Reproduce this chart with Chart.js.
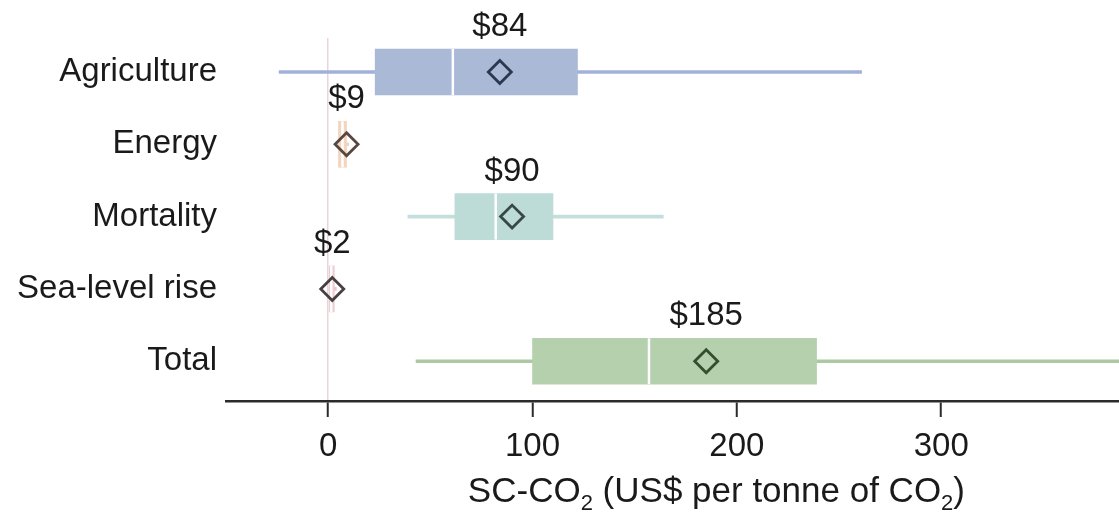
<!DOCTYPE html>
<html>
<head>
<meta charset="utf-8">
<script src="https://cdn.jsdelivr.net/npm/chart.js@4.4.1/dist/chart.umd.min.js"></script>
<style>
  html, body { margin: 0; padding: 0; background: #fff; overflow: hidden; }
  #scco2 { display: block; }
</style>
</head>
<body>
<canvas id="scco2" width="1119" height="515"></canvas>
<script>
// SC-CO2 by sector: whiskers, interquartile box, median and mean
const sectors = ['Agriculture', 'Energy', 'Mortality', 'Sea-level rise', 'Total'];
const whiskerLow = [-24, 4, 39, 0, 43];
const whiskerHigh = [261, 10, 164, 4, 420];
const boxLow = [23, 5, 62, 0.5, 100];
const boxHigh = [122, 9, 110, 3, 239];
const medians = [61, 7, 82, 1.5, 157];
const means = [84, 9, 90, 2, 185];
const xTicks = [0, 100, 200, 300];

const boxColors = ['#a9b9d6', '#f3d6c0', '#bddcd8', '#eecdd2', '#b5d0ac'];
const whiskerColors = ['#a2b1d8', '#f1d2bb', '#c2dfdb', '#eac6cc', '#abcaa2'];
const meanColors = ['#2b3850', '#5a4640', '#384846', '#474042', '#32502f'];

const FONT = '"Liberation Sans", Arial, sans-serif';
const TEXT = '#1a1a1a';
const FONT_SIZE = 33;

function toRanges(lo, hi) {
    return lo.map((v, i) => ({ x: [v, hi[i]], y: i }));
}

function toPoints(vals) {
    return vals.map((v, i) => ({ x: v, y: i }));
}

// "$84" style labels above each mean marker
const meanLabels = {
    id: 'meanLabels',
    afterDatasetsDraw(chart) {
        const { ctx, scales: { x, y } } = chart;
        ctx.save();
        ctx.font = `${FONT_SIZE}px ${FONT}`;
        ctx.fillStyle = TEXT;
        ctx.textAlign = 'center';
        ctx.textBaseline = 'alphabetic';
        means.forEach((m, i) => {
            ctx.fillText('$' + m, x.getPixelForValue(m), y.getPixelForValue(i) - 36);
        });
        ctx.restore();
    }
};

// axis title with real subscripts
const axisTitle = {
    id: 'axisTitle',
    afterDraw(chart) {
        const { ctx, scales: { x } } = chart;
        const parts = [['SC-CO', false], ['2', true], [' (US$ per tonne of CO', false], ['2', true], [')', false]];
        const big = `35px ${FONT}`;
        const small = `22px ${FONT}`;
        ctx.save();
        let total = 0;
        parts.forEach(([t, sub]) => {
            ctx.font = sub ? small : big;
            total += ctx.measureText(t).width;
        });
        let cx = x.getPixelForValue(190) - total / 2;
        const base = chart.height - 13;
        ctx.fillStyle = TEXT;
        ctx.textBaseline = 'alphabetic';
        ctx.textAlign = 'left';
        parts.forEach(([t, sub]) => {
            ctx.font = sub ? small : big;
            ctx.fillText(t, cx, sub ? base + 8 : base);
            cx += ctx.measureText(t).width;
        });
        ctx.restore();
    }
};

Chart.defaults.font.family = FONT;
Chart.defaults.font.size = FONT_SIZE;
Chart.defaults.color = TEXT;

const ctx = document.getElementById('scco2').getContext('2d');
const chart = new Chart(ctx, {
    type: 'bar',
    data: {
        datasets: [
            {
                type: 'scatter',
                data: toPoints(means),
                pointStyle: 'rectRot',
                radius: 11.5,
                backgroundColor: 'rgba(0,0,0,0)',
                borderColor: meanColors,
                borderWidth: 2.8,
                order: 0
            },
            {
                type: 'scatter',
                data: toPoints(medians),
                pointStyle: 'line',
                rotation: 90,
                radius: 23,
                borderColor: '#ffffff',
                borderWidth: 2.5,
                order: 1
            },
            {
                type: 'bar',
                indexAxis: 'y',
                data: toRanges(boxLow, boxHigh),
                backgroundColor: boxColors,
                barThickness: 46,
                grouped: false,
                order: 2
            },
            {
                type: 'bar',
                indexAxis: 'y',
                data: toRanges(whiskerLow, whiskerHigh),
                backgroundColor: whiskerColors,
                barThickness: 3,
                grouped: false,
                order: 3
            }
        ]
    },
    options: {
        responsive: false,
        animation: false,
        events: [],
        // the median markers are tall; don't let them push the plot in from the right
        layout: { autoPadding: false, padding: { top: 38, left: 10, right: 0, bottom: 0 } },
        plugins: {
            legend: { display: false },
            tooltip: { enabled: false }
        },
        scales: {
            x: {
                type: 'linear',
                offset: false,
                min: -50,
                max: 387,
                afterBuildTicks: s => { s.ticks = xTicks.map(v => ({ value: v })); },
                afterFit: s => {
                    s.height = 114;
                    s.paddingLeft = 0;
                    s.paddingRight = 0;
                },
                border: { display: true, color: '#2b2b2b', width: 2.5 },
                grid: {
                    offset: false,
                    drawOnChartArea: true,
                    color: c => (c.tick && c.tick.value === 0 ? '#e6d6d9' : 'rgba(0,0,0,0)'),
                    lineWidth: 1.5,
                    drawTicks: true,
                    tickColor: '#2b2b2b',
                    tickWidth: 2,
                    tickLength: 16
                },
                ticks: { padding: 10, color: TEXT, font: { size: FONT_SIZE } }
            },
            y: {
                type: 'linear',
                offset: false,
                reverse: true,
                min: -0.47,
                max: 4.55,
                afterBuildTicks: s => { s.ticks = sectors.map((_, i) => ({ value: i })); },
                afterFit: s => { s.width = 216; },
                border: { display: false },
                grid: { display: false, drawTicks: false, offset: false },
                ticks: {
                    padding: 9,
                    color: TEXT,
                    font: { size: FONT_SIZE },
                    callback: v => sectors[v]
                }
            }
        }
    },
    plugins: [meanLabels, axisTitle]
});
</script>
</body>
</html>
